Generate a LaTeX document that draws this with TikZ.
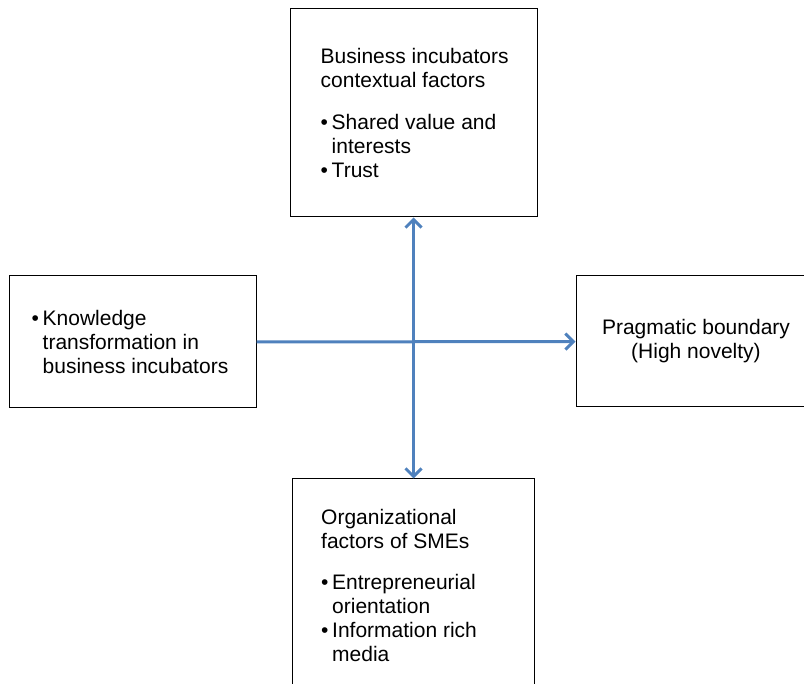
\documentclass[tikz,border=0pt]{standalone}
\usepackage{fontspec}
\setmainfont{Liberation Sans}
\usetikzlibrary{arrows.meta}
\definecolor{linkblue}{HTML}{4F81BD}
\newcommand{\bul}[1]{\makebox[11pt][l]{\textbullet}#1}
\newcommand{\hang}[1]{\hspace*{11pt}#1}

\begin{document}
\begin{tikzpicture}[x=1pt, y=-1pt,
  box/.style={draw, line width=1pt, rectangle, inner sep=0pt},
  txt/.style={inner sep=0pt, align=left, font=\fontsize{21}{24}\selectfont},
  link/.style={draw=linkblue, line width=3pt}]
\useasboundingbox (0,0) rectangle (804,684);
\clip (0,0) rectangle (804,684);
\node[box, minimum width=247pt, minimum height=208pt] (bi) at (413.5,113){};
\node[box, minimum width=247pt, minimum height=132pt] (kt) at (132.5,342){};
\node[box, minimum width=240pt, minimum height=131pt] (pb) at (696,341.5){};
\node[box, minimum width=242pt, minimum height=212pt] (sme) at (413.5,585){};
\node[txt, anchor=west] (bi-t) at ([xshift=31pt]bi.west){Business incubators\\contextual factors\\[18pt]\bul{Shared value and}\\\hang{interests}\\\bul{Trust}};
\node[txt, anchor=west] (kt-t) at ([xshift=23pt]kt.west){\bul{Knowledge}\\\hang{transformation in}\\\hang{business incubators}};
\node[txt, align=center] (pb-t) at (pb){Pragmatic boundary\\(High novelty)};
\node[txt, anchor=west] (sme-t) at ([xshift=29pt]sme.west){Organizational\\factors of SMEs\\[17pt]\bul{Entrepreneurial}\\\hang{orientation}\\\bul{Information rich}\\\hang{media}};
\draw[link, -{Straight Barb[length=8pt, width=16pt]}](kt) -- (pb);
\draw[link, {Straight Barb[length=8pt, width=16pt]}-{Straight Barb[length=8pt, width=16pt]}](bi) -- (sme);
\end{tikzpicture}
\end{document}
